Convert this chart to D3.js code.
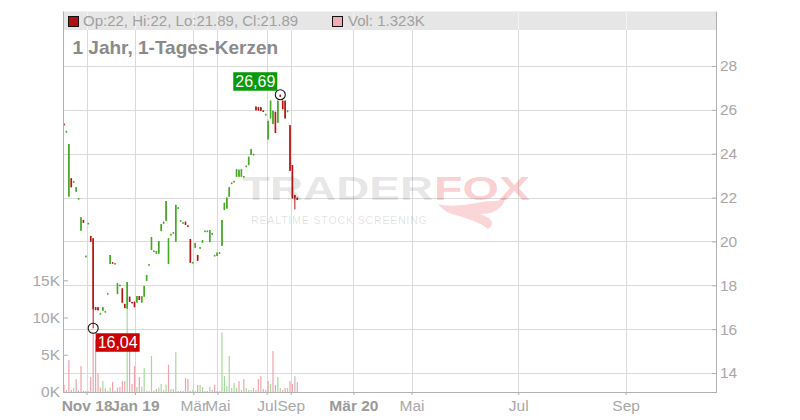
<!DOCTYPE html>
<html>
<head>
<meta charset="utf-8">
<script src="https://cdn.jsdelivr.net/npm/d3@7/dist/d3.min.js"></script>
<style>
  html, body { margin: 0; padding: 0; background: #fff; }
  svg { display: block; font-family: "Liberation Sans", Arial, sans-serif; }
</style>
</head>
<body>
<svg id="chart" width="800" height="420"></svg>
<script>
// ---------- DATA ----------
const day = d3.range(0, 97);
const open  = [25.36,25.01,22.04,22.88,22.72,22.27,21.95,20.49,20.98,19.33,20.82,20.25,20.14,17.00,17.00,16.71,16.84,16.80,17.62,18.97,
               19.05,18.99,17.60,18.00,17.86,17.15,16.93,17.48,17.24,17.25,17.21,17.51,17.21,17.48,18.21,18.95,19.61,19.57,19.44,19.44,
               20.47,20.81,20.94,18.97,20.33,20.41,19.99,21.54,20.95,20.86,20.90,20.73,20.11,19.05,19.71,19.38,19.72,19.94,20.48,20.48,
               19.97,20.36,19.37,19.34,19.49,19.80,21.43,21.50,22.04,22.67,22.74,22.95,22.95,22.95,22.97,23.44,23.48,23.94,23.98,26.15,
               26.12,26.12,25.97,25.80,24.65,25.61,25.35,25.91,25.41,26.69,26.42,26.42,25.95,25.30,23.48,22.12,22.00];
const high  = [25.38,25.05,24.44,22.88,22.76,22.47,21.98,21.10,20.98,19.36,20.85,20.25,20.14,17.00,17.00,16.74,17.00,16.83,17.65,19.38,
               19.05,19.02,18.09,18.03,17.86,17.15,18.15,17.48,17.24,17.25,17.51,17.51,17.51,17.97,18.47,18.97,20.20,19.59,19.56,20.02,
               20.79,20.90,21.84,20.14,20.35,20.43,21.67,21.56,20.97,20.88,20.90,20.73,20.11,19.07,19.93,19.38,19.74,20.06,20.50,20.50,
               20.52,20.38,19.39,19.49,19.51,20.98,21.76,22.00,22.47,22.69,22.76,23.29,23.29,23.29,22.99,23.46,23.86,24.21,24.00,26.15,
               26.12,26.12,25.97,25.82,25.50,26.42,25.96,25.91,26.42,26.69,26.42,26.42,25.97,25.30,23.48,22.12,22.00];
const low   = [25.32,25.00,22.04,22.47,22.72,22.27,21.94,20.49,20.85,19.32,20.81,19.99,16.04,16.87,16.86,16.70,16.84,16.79,17.61,18.97,
               19.02,18.98,17.60,17.99,17.21,16.96,16.93,17.24,17.21,17.00,17.21,17.33,17.21,17.48,18.21,18.94,19.61,19.56,19.44,19.44,
               20.47,20.81,20.94,18.97,20.32,20.40,19.99,21.53,20.94,20.85,20.75,20.71,19.03,19.04,19.71,19.12,19.71,19.94,20.47,20.47,
               19.97,20.35,19.36,19.34,19.48,19.80,21.43,21.50,22.04,22.66,22.73,22.95,22.95,22.95,22.96,23.43,23.48,23.94,23.97,25.98,
               25.97,25.96,25.96,25.80,24.65,25.61,25.35,24.95,25.41,26.60,26.03,25.61,25.94,23.22,21.96,21.46,21.89];
const close = [25.34,25.03,24.44,22.47,22.74,22.47,21.97,21.10,20.85,19.34,20.84,19.99,16.90,16.87,16.86,16.73,17.00,16.82,17.64,19.38,
               19.03,19.01,18.09,18.02,17.21,16.96,18.15,17.24,17.22,17.00,17.51,17.33,17.50,17.97,18.47,18.96,20.20,19.58,19.56,20.02,
               20.79,20.90,21.84,20.14,20.34,20.42,21.67,21.55,20.96,20.87,20.75,20.72,19.03,19.06,19.93,19.12,19.73,20.06,20.49,20.49,
               20.52,20.37,19.38,19.49,19.50,20.98,21.76,22.00,22.47,22.68,22.75,23.29,23.25,23.29,22.98,23.45,23.86,24.21,23.99,25.98,
               25.97,25.96,25.96,25.81,25.50,26.42,25.96,24.95,26.42,26.60,26.03,25.61,25.96,23.22,21.96,21.96,21.89];
const volume = [940,270,4290,270,540,1740,200,3480,130,130,130,2010,8000,7000,2450,580,1470,480,180,580,
                1340,180,580,670,1470,1470,11200,6000,1070,3480,670,2010,710,3220,130,130,4820,180,400,580,
                1070,270,1000,3660,400,400,5360,130,130,130,1880,1740,130,270,100,940,940,670,130,130,
                670,270,940,130,130,8000,2140,800,4820,540,1200,540,1470,270,1740,540,270,270,540,270,
                1740,2140,400,270,1470,1070,5490,940,2010,540,270,540,540,1470,1070,2140,1323];

// x axis: label positions in trading-day units and their labels
const xTickDays   = [9.3, 29.2, 53.2, 63.1, 83.4, 93.3, 119.1, 143.0, 186.9, 231.1];
const xTickLabels = ["Nov 18", "Jan 19", "Mär", "Mai", "Jul", "Sep", "Mär 20", "Mai", "Jul", "Sep"];
const priceTicks  = [14, 16, 18, 20, 22, 24, 26, 28];
const volTicks    = [0, 5000, 10000, 15000];
const visibleDays = 268.3;
const titleText   = "1 Jahr, 1-Tages-Kerzen";

// ---------- LAYOUT ----------
const plotL = 63, plotR = 716, plotT = 11.5, plotB = 392;
const svg = d3.select("#chart");

const x = d3.scaleLinear().domain([0, visibleDays]).range([64, plotR]);
const y = d3.scaleLinear().domain([14, 28]).range([373, 66]);
const yv = d3.scaleLinear().domain([0, 15000]).range([plotB, 280.3]);

const C = {
  grid: "#dadada", axis: "#b0b0b0", text: "#a8a8a8",
  up: "#45a827", down: "#b81414",
  vUp: "#a5d99b", vDown: "#eea3ad", vFlat: "#bdbdbd",
  header: "#e6e6e6"
};

const data = day.map((d, i) => ({
  d, o: open[i], h: high[i], l: low[i], c: close[i], v: volume[i],
  prev: i > 0 ? close[i - 1] : open[i]
}));

// ---------- GRID ----------
const grid = svg.append("g");
grid.selectAll("line.h").data(priceTicks).join("line")
  .attr("x1", plotL).attr("x2", plotR)
  .attr("y1", d => Math.round(y(d)) + 0.5).attr("y2", d => Math.round(y(d)) + 0.5)
  .attr("stroke", C.grid);
grid.selectAll("line.v").data(xTickDays).join("line")
  .attr("x1", d => Math.round(x(d)) + 0.5).attr("x2", d => Math.round(x(d)) + 0.5)
  .attr("y1", plotT).attr("y2", plotB)
  .attr("stroke", C.grid);

// ---------- WATERMARK ----------
const wm = svg.append("g").attr("pointer-events", "none");
wm.append("text").attr("x", 242).attr("y", 199.5)
  .attr("textLength", 191).attr("lengthAdjust", "spacingAndGlyphs")
  .attr("font-size", 34).attr("font-weight", "bold")
  .attr("fill", "#000").attr("fill-opacity", 0.115).text("TRADER");
wm.append("text").attr("x", 434).attr("y", 199.5)
  .attr("textLength", 96).attr("lengthAdjust", "spacingAndGlyphs")
  .attr("font-size", 34).attr("font-weight", "bold")
  .attr("fill", "#e8303a").attr("fill-opacity", 0.24).text("FOX");
wm.append("text").attr("x", 251).attr("y", 223.5)
  .attr("textLength", 176).attr("lengthAdjust", "spacing")
  .attr("font-size", 10.5)
  .attr("fill", "#000").attr("fill-opacity", 0.13).text("REALTIME STOCK SCREENING");
wm.append("path")
  .attr("d", "M438,204 C452,208 470,204 482,202 C492,200 500,203 506,196 C503,210 492,214 480,214 C492,218 496,224 488,229 C480,222 466,218 452,214 C446,212 441,208 438,204 Z")
  .attr("fill", "#e8303a").attr("fill-opacity", 0.2);

// ---------- HEADER ----------
svg.append("rect").attr("x", plotL).attr("y", plotT).attr("width", plotR - plotL).attr("height", 30 - plotT)
  .attr("fill", C.header);
svg.append("g").selectAll("line").data(xTickDays).join("line")
  .attr("x1", d => Math.round(x(d)) + 0.5).attr("x2", d => Math.round(x(d)) + 0.5)
  .attr("y1", plotT).attr("y2", 30).attr("stroke", "#f3f3f3");

// ---------- VOLUME ----------
svg.append("g").selectAll("rect").data(data).join("rect")
  .attr("x", d => x(d.d) - 0.6).attr("width", 1.2)
  .attr("y", d => yv(d.v)).attr("height", d => plotB - yv(d.v))
  .attr("fill", d => d.c > d.prev ? C.vUp : d.c < d.prev ? C.vDown : C.vFlat);

// ---------- CANDLES ----------
const cg = svg.append("g");
cg.selectAll("line").data(data).join("line")
  .attr("x1", d => x(d.d)).attr("x2", d => x(d.d))
  .attr("y1", d => y(d.h)).attr("y2", d => Math.max(y(d.l), y(d.h) + 1))
  .attr("stroke", d => d.c >= d.o ? C.up : C.down).attr("stroke-width", 1);
cg.selectAll("rect").data(data).join("rect")
  .attr("x", d => x(d.d) - 0.8).attr("width", 1.6)
  .attr("y", d => y(Math.max(d.o, d.c)))
  .attr("height", d => Math.max(1.5, Math.abs(y(d.o) - y(d.c))))
  .attr("fill", d => d.c >= d.o ? C.up : C.down);

// ---------- AXES ----------
const axR = svg.append("g").attr("transform", `translate(${plotR},0)`)
  .call(d3.axisRight(y).tickValues(priceTicks).tickSize(-4).tickPadding(4));
const axL = svg.append("g").attr("transform", `translate(${plotL},0)`)
  .call(d3.axisLeft(yv).tickValues(volTicks).tickSize(-5).tickPadding(3)
    .tickFormat(d => (d / 1000) + "K"));
const axB = svg.append("g").attr("transform", `translate(0,${plotB})`)
  .call(d3.axisBottom(x).tickValues(xTickDays).tickSize(3).tickPadding(5)
    .tickFormat((d, i) => xTickLabels[i]));
[axR, axL, axB].forEach(a => {
  a.select(".domain").remove();
  a.selectAll(".tick line").attr("stroke", C.axis);
  a.selectAll("text").attr("fill", C.text).attr("font-size", 15.5)
    .attr("font-family", "'Liberation Sans', Arial, sans-serif");
});
axB.selectAll("text")
  .attr("font-weight", (d, i) => /\d/.test(xTickLabels[i]) ? "bold" : "normal")
  .attr("fill", (d, i) => /\d/.test(xTickLabels[i]) ? "#9a9a9a" : C.text);

svg.append("line").attr("x1", plotL + 0.5).attr("x2", plotL + 0.5).attr("y1", plotT).attr("y2", plotB)
  .attr("stroke", C.axis);
svg.append("line").attr("x1", plotR + 0.5).attr("x2", plotR + 0.5).attr("y1", plotT).attr("y2", plotB)
  .attr("stroke", C.axis);
svg.append("line").attr("x1", plotL).attr("x2", plotR + 1).attr("y1", plotB + 0.5).attr("y2", plotB + 0.5)
  .attr("stroke", C.axis);

// ---------- HIGH / LOW MARKERS ----------
const fmtDE = v => d3.format(".2f")(v).replace(".", ",");
const hiD = data.reduce((a, b) => b.h > a.h ? b : a);
const loD = data.reduce((a, b) => b.l < a.l ? b : a);
function marker(d, val, color, placeAbove) {
  const cx = x(d.d), cy = y(val);
  const g = svg.append("g");
  const bw = 44, bh = 18.5;
  const bx = placeAbove ? cx - 3 - bw : cx + 2.5;
  const by = placeAbove ? cy - 4 - bh : cy + 5;
  g.append("rect").attr("x", bx).attr("y", by).attr("width", bw).attr("height", bh).attr("fill", color);
  g.append("text").attr("x", bx + bw / 2).attr("y", by + bh / 2).attr("dy", "0.36em")
    .attr("text-anchor", "middle").attr("fill", "#fff").attr("font-size", 16).text(fmtDE(val));
  g.append("circle").attr("cx", cx).attr("cy", cy).attr("r", 5)
    .attr("fill", "none").attr("stroke", "#111").attr("stroke-width", 1.1);
}
marker(hiD, hiD.h, "#089a08", true);
marker(loD, loD.l, "#cc0000", false);

// ---------- TITLE ----------
svg.append("text").attr("x", 72.5).attr("y", 54)
  .attr("font-size", 19).attr("font-weight", "bold").attr("fill", "#8a8a8a")
  .text(titleText);

// ---------- HEADER LEGEND ----------
const last = data[data.length - 1];
const fmtN = d3.format("~r");
svg.append("rect").attr("x", 68.5).attr("y", 16.5).attr("width", 10).attr("height", 10)
  .attr("fill", "#b01212").attr("stroke", "#111");
svg.append("text").attr("x", 83).attr("y", 26.3).attr("font-size", 15).attr("fill", "#a0a0a0")
  .text(`Op:${fmtN(last.o)}, Hi:${fmtN(last.h)}, Lo:${fmtN(last.l)}, Cl:${fmtN(last.c)}`);
svg.append("rect").attr("x", 332.5).attr("y", 16.5).attr("width", 10).attr("height", 10)
  .attr("fill", "#f2aab3").attr("stroke", "#111");
svg.append("text").attr("x", 348).attr("y", 26.3).attr("font-size", 15).attr("fill", "#a0a0a0")
  .text(`Vol: ${d3.format(".4~r")(last.v / 1000)}K`);
</script>
</body>
</html>
